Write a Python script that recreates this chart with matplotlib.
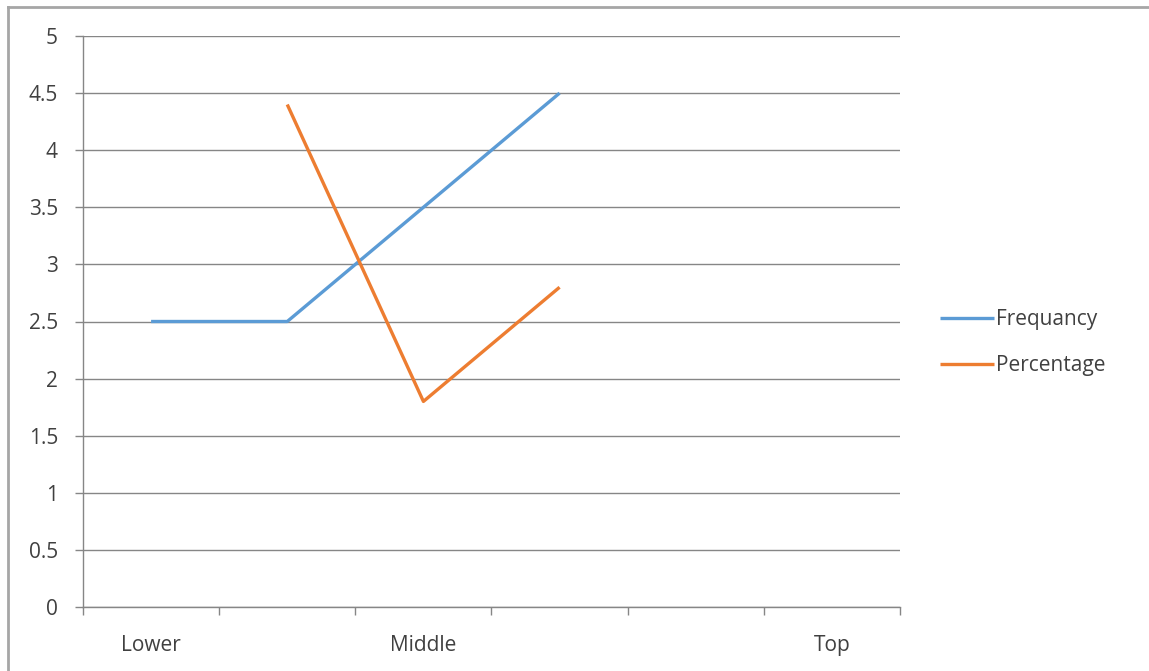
import numpy as np
import matplotlib
matplotlib.use("Agg")
import matplotlib.pyplot as plt
from matplotlib.lines import Line2D

plt.rcParams['font.family'] = ['Open Sans', 'DejaVu Sans']

# categories along the x axis (only some are named)
categories = ["Lower", "", "Middle", "", "", "Top"]
frequancy = [2.5, 2.5, 3.5, 4.5]
percentage = [None, 4.4, 1.8, 2.8]

grid_col = "#868686"
text_col = "#404040"
fs = 15

fig = plt.figure(figsize=(11.49, 6.71), dpi=100)
ax = fig.add_axes([83 / 1149, 1 - 607 / 671, (900 - 83) / 1149, (607 - 36) / 671])

x = np.arange(len(frequancy))
pct = np.array([np.nan if v is None else v for v in percentage])
ax.plot(x, frequancy, color="#5B9BD5", lw=2.4, label="Frequancy", solid_capstyle="butt")
ax.plot(x, pct, color="#ED7D31", lw=2.4, label="Percentage", solid_capstyle="butt")

ax.set_xlim(-0.5, len(categories) - 0.5)
ax.set_ylim(0, 5)
ax.set_yticks(np.arange(0, 5.01, 0.5))
ax.set_yticklabels(["0", "0.5", "1", "1.5", "2", "2.5", "3", "3.5", "4", "4.5", "5"])
ax.yaxis.grid(True, color=grid_col, lw=1)
ax.set_axisbelow(True)

# boundary ticks as major, category names on minor ticks
ax.set_xticks(np.arange(-0.5, len(categories), 1.0))
ax.set_xticklabels([])
ax.set_xticks(np.arange(len(categories)), minor=True)
ax.set_xticklabels(categories, minor=True)
ax.tick_params(axis="x", which="major", length=6, width=1, color=grid_col, direction="out")
ax.tick_params(axis="x", which="minor", length=0, pad=20, labelsize=fs, labelcolor=text_col)
ax.tick_params(axis="y", length=6, width=1, color=grid_col, pad=12, labelsize=fs, labelcolor=text_col)

for side in ["top", "right"]:
    ax.spines[side].set_visible(False)
for side in ["left", "bottom"]:
    ax.spines[side].set_color(grid_col)
    ax.spines[side].set_linewidth(1)

fig.legend(loc="center left", bbox_to_anchor=(940 / 1149, 1 - 343 / 671),
           frameon=False, fontsize=fs, handlelength=2.6, handletextpad=0.1,
           labelspacing=1.2, borderpad=0, borderaxespad=0, labelcolor=text_col)

# chart area border (top and left edges)
fig.add_artist(Line2D([8 / 1149, 1], [1 - 7 / 671, 1 - 7 / 671], color="#A6A6A6", lw=2))
fig.add_artist(Line2D([8 / 1149, 8 / 1149], [0, 1 - 7 / 671], color="#A6A6A6", lw=2))

fig.savefig("out.png", dpi=100, facecolor="white")
